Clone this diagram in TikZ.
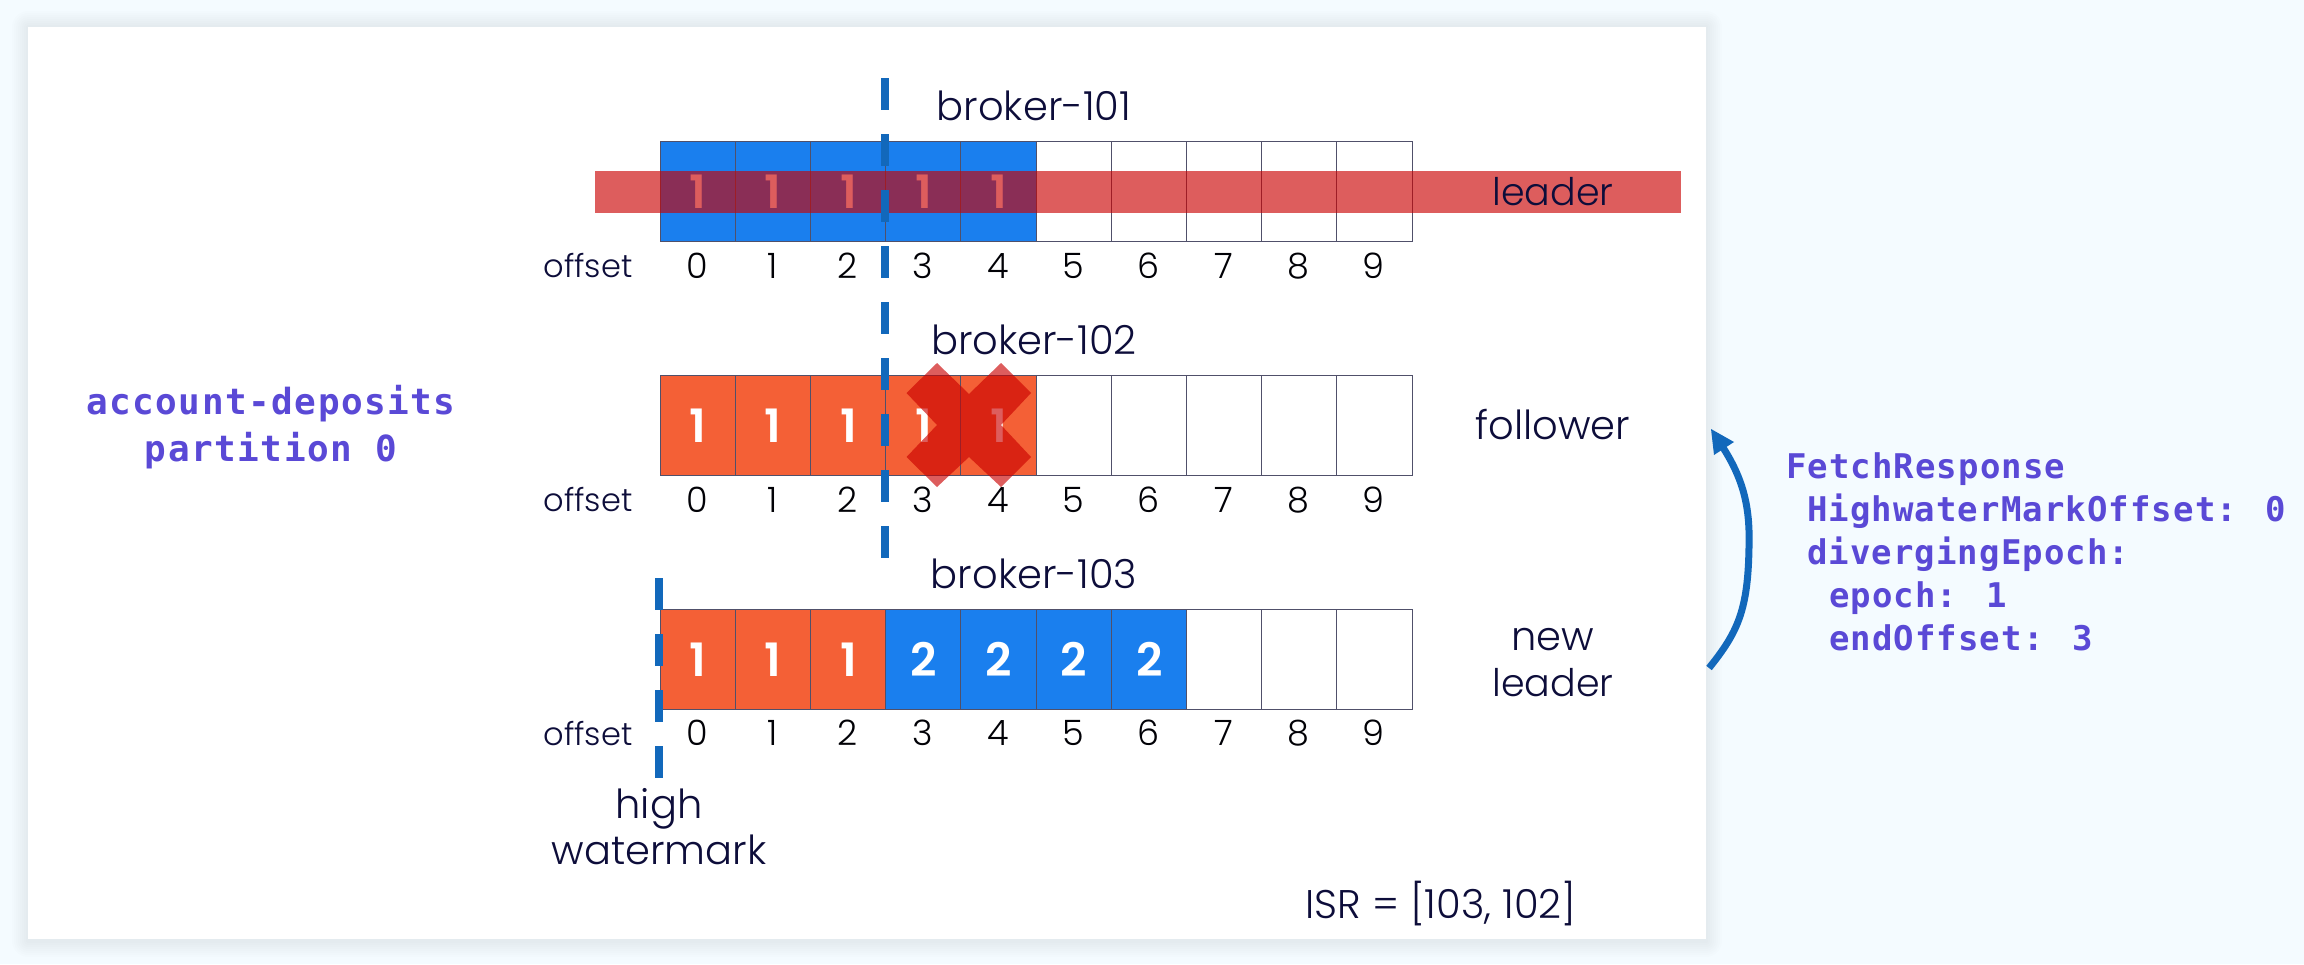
\documentclass[tikz,border=0pt]{standalone}
\usepackage{fontspec}
\setmainfont{Poppins Light}
\newfontfamily\digitfont{Poppins SemiBold}
\newfontfamily\codefont[LetterSpace=3.2]{DejaVu Sans Mono Bold}
\newfontfamily\topicfont[LetterSpace=4.2]{DejaVu Sans Mono Bold}
\definecolor{pagebg}{HTML}{F4FBFF}
\definecolor{navy}{HTML}{0D0D3A}
\definecolor{cellblue}{HTML}{1A7FEE}
\definecolor{cellorange}{HTML}{F46036}
\definecolor{gridc}{HTML}{50506A}
\definecolor{markblue}{HTML}{1268BB}
\definecolor{codec}{HTML}{5A49D6}
\definecolor{crossred}{RGB}{203,0,0}
\tikzset{
  x=1pt,y=-1pt,
  label/.style={anchor=base,inner sep=0pt,outer sep=0pt,text=navy,font=\fontsize{40}{40}\selectfont},
  leaderlbl/.style={label,font=\fontsize{38}{38}\selectfont},
  offsetlbl/.style={label,font=\fontsize{32}{32}\selectfont},
  idx/.style={label,text=black!90!navy,font=\fontsize{35}{35}\selectfont},
  val/.style={anchor=base,inner sep=0pt,outer sep=0pt,text=white,font=\digitfont\fontsize{46}{46}\selectfont},
  code/.style={anchor=base west,inner sep=0pt,outer sep=0pt,text=codec,font=\codefont\fontsize{34}{34}\selectfont},
  topic/.style={anchor=base,inner sep=0pt,outer sep=0pt,text=codec,font=\topicfont\fontsize{36}{36}\selectfont},
  cell/.style={draw=gridc,line width=1pt},
  wm/.style={draw=markblue,line width=8pt,dash pattern=on 32pt off 24pt},
  band/.style={fill=crossred,fill opacity=.635},
}
\begin{document}
\begin{tikzpicture}
\useasboundingbox (0,0) rectangle (2304,964);
\fill[pagebg] (0,0) rectangle (2304,964);
% panel shadow
\foreach \r in {16,14,...,2}{
  \fill[black,opacity=.009,rounded corners=\r pt] (28-\r,27-\r) rectangle (1706+\r,939+\r+2);
}
\fill[white] (28,27) rectangle (1706,939);

% rows of cells
\foreach \rowname/\top/\numb/\off in {a/141/241/278,b/375/475/512,c/609/709/745}{
  \foreach \i in {0,...,9}{
    \pgfmathsetmacro{\xl}{660+75.2*\i}
    \pgfmathsetmacro{\xr}{660+75.2*(\i+1)}
    \def\fc{white}
    \ifnum\i<5
      \if\rowname a\def\fc{cellblue}\fi
      \if\rowname b\def\fc{cellorange}\fi
    \fi
    \if\rowname c
      \ifnum\i<3\def\fc{cellorange}\else\ifnum\i<7\def\fc{cellblue}\fi\fi
    \fi
    \path[cell,fill=\fc] (\xl,\top) rectangle (\xr,\numb);
    \pgfmathsetmacro{\xd}{697+75.2*\i}
    \node[idx] (idx\rowname\i) at (\xd,\off) {\i};
  }
}
\node[offsetlbl] (offa) at (588,277) {offset};
\node[offsetlbl] (offb) at (588,511) {offset};
\node[offsetlbl] (offc) at (588,745) {offset};

% cell values
\foreach \i in {0,...,4}{
  \pgfmathsetmacro{\xd}{698+75.2*\i}
  \node[val] (va\i) at (\xd,208) {1};
  \node[val] (vb\i) at (\xd,442) {1};
}
\foreach \i in {0,...,2}{
  \pgfmathsetmacro{\xd}{698+75.2*\i}
  \node[val] (vc\i) at (\xd,676) {1};
}
\foreach \i in {3,...,6}{
  \pgfmathsetmacro{\xd}{698+75.2*\i}
  \node[val] (vc\i) at (\xd,676) {2};
}

% red strike band over the old leader
\fill[band] (595,171) rectangle (1681,213);
% red cross over the follower
\fill[band] (937,363)--(969,394)--(1001,363)--(1031,393)--(1001,425)--(1031,457)--(1001,487)--(969,457)--(937,487)--(906.5,457)--(937,425)--(906.5,393)--cycle;

% high watermarks
\coordinate (hwa) at (885,78);
\coordinate (hwb) at (885,558);
\coordinate (hwc) at (659,578);
\coordinate (hwd) at (659,778);
\draw[wm] (hwa) -- (hwb);
\draw[wm] (hwc) -- (hwd);

% labels
\node[label] (b1) at (1034,120) {broker-101};
\node[label] (b2) at (1034,354) {broker-102};
\node[label] (b3) at (1034,588) {broker-103};
\node[leaderlbl] (leader) at (1553,205) {leader};
\node[label] (follower) at (1553,439) {follower};
\node[label] (new) at (1553,650) {new};
\node[leaderlbl] (newleader) at (1553,696) {leader};
\node[label] (high) at (659,818) {high};
\node[label] (watermark) at (659,864) {watermark};
\node[label] (isr) at (1441,918) {ISR = [103, 102]};

% topic
\node[topic] (topic) at (271,414) {account-deposits};
\node[topic] (part) at (271,461) {partition 0};

% response
\node[code] (r1) at (1786,478) {FetchResponse};
\node[code] (r2) at (1807,521) {HighwaterMarkOffset: 0};
\node[code] (r3) at (1807,564) {divergingEpoch:};
\node[code] (r4) at (1829,607) {epoch: 1};
\node[code] (r5) at (1829,650) {endOffset: 3};

% arrow
\coordinate (as) at (1709,668);
\coordinate (ae) at (1720,443);
\coordinate (tip) at (1711,429);
\coordinate (b) at (1734,442);
\coordinate (c) at (1714,455);
\draw[markblue,line width=7pt] (as) .. controls (1738,632) and (1748,610) .. (1749,547) .. controls (1750,510) and (1745,480) .. (ae);
\fill[markblue] (tip) -- (b) -- (c) -- cycle;
\end{tikzpicture}
\end{document}
